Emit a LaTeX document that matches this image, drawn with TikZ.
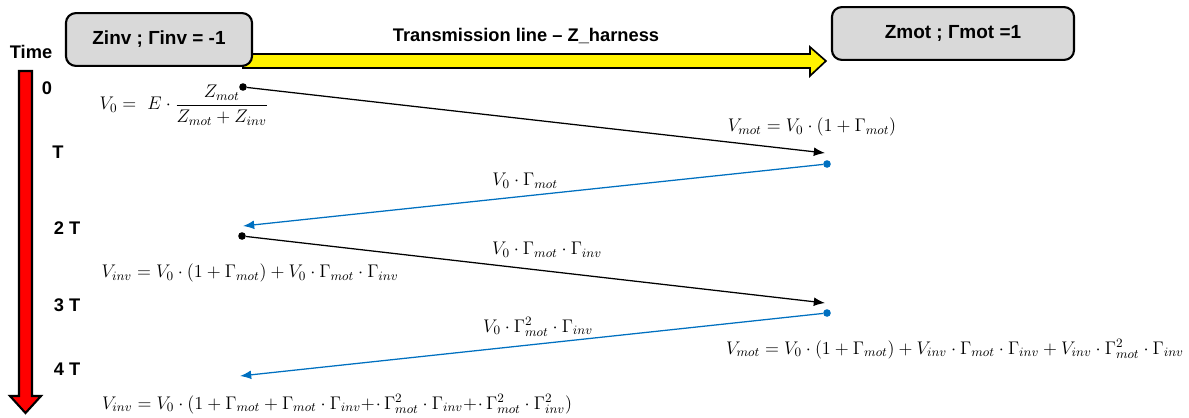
\RequirePackage{fix-cm}
\documentclass[tikz,border=0pt]{standalone}
\usepackage{amsmath}
\usepackage{fontspec}
\setsansfont{Liberation Sans}
\usetikzlibrary{arrows.meta,calc,backgrounds}
\definecolor{wavblue}{RGB}{0,112,192}
\definecolor{boxgray}{RGB}{217,217,217}

\begin{document}
\begin{tikzpicture}[
    x=0.025cm, y=-0.025cm,
    every node/.style={inner sep=0pt},
    endbox/.style={draw, line width=1.5pt, rounded corners=7pt, fill=boxgray, minimum height=1.32cm, font=\sffamily\bfseries\fontsize{13.5}{16}\selectfont},
    tlabel/.style={font=\sffamily\bfseries\fontsize{13}{15}\selectfont},
    eq/.style={font=\fontsize{13}{15}\selectfont},
    dot/.style={circle, fill, minimum size=0.19cm},
    fwd/.style={-{Latex[length=2.8mm,width=2.2mm]}, line width=0.9pt},
    bwd/.style={-{Latex[length=2.8mm,width=2.2mm]}, line width=0.9pt, wavblue},
    tline/.style={draw, fill=yellow, line width=1.2pt},
    timeline/.style={draw, fill=red, line width=1.5pt}
]
\useasboundingbox (0,0) rectangle (1189,417);

% line ends
\node[endbox, minimum width=4.65cm] (inv) at (159,39.5) {Zinv ; Γinv = -1};
\node[endbox, minimum width=6.05cm] (mot) at (953,33.5) {Zmot ; Γmot =1};
\node[tlabel] (harness) at (526,36) {Transmission line – Z\_harness};
\begin{scope}[on background layer]
\draw[tline] ($(inv.south east)+(-10,-13)$) -- ($(mot.south west)+(-21,-7)$) -- ++(0,-7)
    -- ($(mot.south west)+(-5,0)$) -- ++(-16,15) -- ++(0,-8) -- ($(inv.south east)+(-10,1)$) -- cycle;
\end{scope}

% time axis
\node[tlabel] (time) at (31,52) {Time};
\draw[timeline] (19,71) -- (32,71) -- (32,396) -- (41,396) -- (25.5,413) -- (10,396) -- (19,396) -- cycle;
\node[tlabel] (t0) at (47,88) {0};
\node[tlabel] (t1) at (58,152) {T};
\node[tlabel] (t2) at (67,228) {2 T};
\node[tlabel] (t3) at (67,305) {3 T};
\node[tlabel] (t4) at (67,369) {4 T};

% bounces
\node[dot] (s0) at (243,87) {};
\coordinate (e0) at (825,153);
\node[dot, wavblue] (s1) at (827,164) {};
\coordinate (e1) at (243,226);
\node[dot] (s2) at (242,236) {};
\coordinate (e2) at (825,303);
\node[dot, wavblue] (s3) at (827,313) {};
\coordinate (e3) at (240,376);
\draw[fwd] (s0) -- (e0);
\draw[bwd] (s1) -- (e1);
\draw[fwd] (s2) -- (e2);
\draw[bwd] (s3) -- (e3);

% voltages
\node[eq] (v0) at (184,105) {$V_0 =\ E\cdot\dfrac{Z_{mot}}{Z_{mot}+Z_{inv}}$};
\node[eq] (vmot1) at (812,127) {$V_{mot}=V_0\cdot(1+\Gamma_{mot})$};
\node[eq] (refl1) at (525,181) {$V_0\cdot\Gamma_{mot}$};
\node[eq] (vinv1) at (250,273) {$V_{inv}=V_0\cdot(1+\Gamma_{mot})+V_0\cdot\Gamma_{mot}\cdot\Gamma_{inv}$};
\node[eq] (refl2) at (547,250) {$V_0\cdot\Gamma_{mot}\cdot\Gamma_{inv}$};
\node[eq] (refl3) at (538,327) {$V_0\cdot\Gamma_{mot}^2\cdot\Gamma_{inv}$};
\node[eq] (vmot2) at (955,349) {$V_{mot}=V_0\cdot(1+\Gamma_{mot})+V_{inv}\cdot\Gamma_{mot}\cdot\Gamma_{inv}+V_{inv}\cdot\Gamma_{mot}^2\cdot\Gamma_{inv}$};
\node[eq] (vinv2) at (337,404) {$V_{inv}=V_0\cdot(1+\Gamma_{mot}+\Gamma_{mot}\cdot\Gamma_{inv}{+}\mkern1mu{\cdot}\,\Gamma_{mot}^2\cdot\Gamma_{inv}{+}\mkern1mu{\cdot}\,\Gamma_{mot}^2\cdot\Gamma_{inv}^2)$};
\end{tikzpicture}
\end{document}
